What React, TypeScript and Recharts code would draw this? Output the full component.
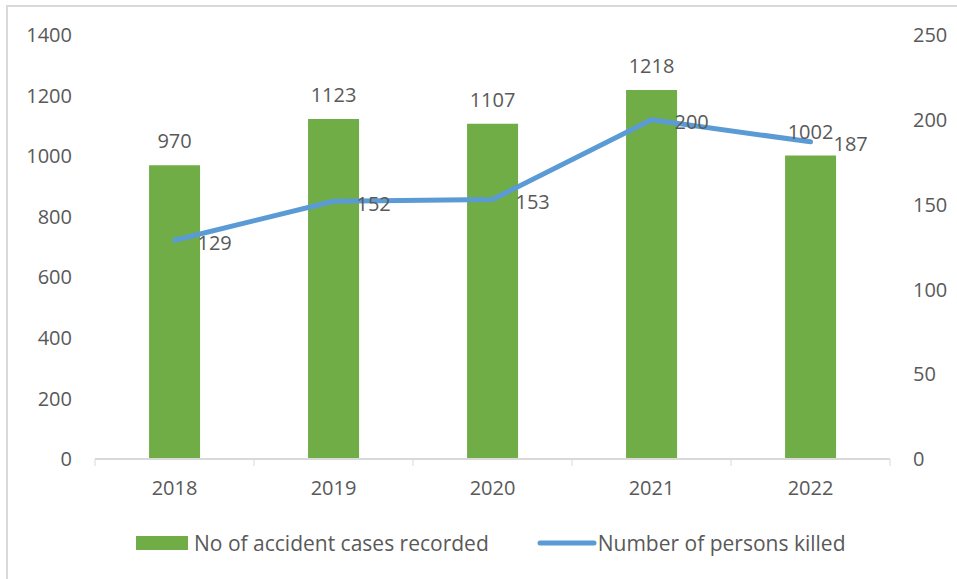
import React from 'react';
import { ComposedChart, Bar, Line, XAxis, YAxis, LabelList, Legend } from 'recharts';

const years = ['2018', '2019', '2020', '2021', '2022'];
const accidentCases = [970, 1123, 1107, 1218, 1002];
const personsKilled = [129, 152, 153, 200, 187];
const leftTicks = [0, 200, 400, 600, 800, 1000, 1200, 1400];
const rightTicks = [0, 50, 100, 150, 200, 250];

const data = years.map((y, i) => ({ year: y, cases: accidentCases[i], killed: personsKilled[i] }));

const FONT = '"Open Sans", sans-serif';
const TEXT = '#595959';
const AXIS = '#d9d9d9';
const GREEN = '#70ad47';
const BLUE = '#5b9bd5';
const TICK_MARGIN = 22;

const XTick = (props: any) => {
  const { x, y, payload, index, visibleTicksCount, width } = props;
  const half = width / visibleTicksCount / 2;
  const axisY = y - TICK_MARGIN;
  const last = index === visibleTicksCount - 1;
  return (
    <g>
      <line x1={x - half} x2={x - half} y1={axisY} y2={axisY + 7} stroke={AXIS} strokeWidth={1} />
      {last && <line x1={x + half} x2={x + half} y1={axisY} y2={axisY + 7} stroke={AXIS} strokeWidth={1} />}
      <text x={x} y={y} dy="0.71em" textAnchor="middle" fill={TEXT} fontSize={20} fontFamily={FONT}>
        {payload.value}
      </text>
    </g>
  );
};

const LineLabel = (props: any) => {
  const { x, y, value } = props;
  return (
    <text x={x + 23} y={y + 2} dominantBaseline="central" textAnchor="start" fill={TEXT} fontSize={20} fontFamily={FONT}>
      {value}
    </text>
  );
};

const LegendContent = () => (
  <div style={{ display: 'flex', justifyContent: 'flex-start', alignItems: 'center', fontFamily: FONT, fontSize: 21, color: TEXT, height: 30, paddingLeft: 136 }}>
    <svg width={52} height={14} style={{ marginRight: 6 }}>
      <rect x={0} y={0} width={52} height={14} fill={GREEN} />
    </svg>
    <span style={{ marginRight: 48 }}>No of accident cases recorded</span>
    <svg width={60} height={14} style={{ marginRight: 1 }}>
      <line x1={3} x2={57} y1={7} y2={7} stroke={BLUE} strokeWidth={5} strokeLinecap="round" />
    </svg>
    <span>Number of persons killed</span>
  </div>
);

export default function App() {
  return (
    <div style={{ position: 'absolute', left: 0, top: 0, width: 957, height: 579, background: '#fff', overflow: 'hidden' }}>
      <div style={{ position: 'absolute', left: 6, top: 5, width: 1000, height: 1000, border: '2px solid #d9d9d9', boxSizing: 'border-box' }} />
      <ComposedChart
        width={957}
        height={579}
        data={data}
        margin={{ top: 35, right: 0, left: 0, bottom: 50 }}
        barCategoryGap="34%"
        style={{ position: 'absolute', left: 0, top: 0 }}
      >
        <XAxis
          dataKey="year"
          axisLine={{ stroke: AXIS, strokeWidth: 2 }}
          tickLine={false}
          tickSize={0}
          tickMargin={TICK_MARGIN}
          tick={<XTick />}
          height={40}
          interval={0}
        />
        <YAxis
          yAxisId="left"
          orientation="left"
          domain={[0, 1400]}
          ticks={leftTicks}
          width={95}
          axisLine={false}
          tickLine={false}
          tickSize={0}
          tickMargin={23}
          tick={{ fill: TEXT, fontSize: 20, fontFamily: FONT }}
          interval={0}
        />
        <YAxis
          yAxisId="right"
          orientation="right"
          domain={[0, 250]}
          ticks={rightTicks}
          width={67}
          axisLine={false}
          tickLine={false}
          tickSize={0}
          tickMargin={23}
          tick={{ fill: TEXT, fontSize: 20, fontFamily: FONT, textAnchor: 'start' }}
          interval={0}
        />
        <Legend
          verticalAlign="bottom"
          content={<LegendContent />}
          wrapperStyle={{ position: 'absolute', left: 0, top: 528, width: 957, height: 30 }}
        />
        <Bar yAxisId="left" dataKey="cases" fill={GREEN} isAnimationActive={false}>
          <LabelList dataKey="cases" position="top" offset={17} fill={TEXT} fontSize={20} fontFamily={FONT} />
        </Bar>
        <Line
          yAxisId="right"
          dataKey="killed"
          stroke={BLUE}
          strokeWidth={5}
          strokeLinecap="round"
          strokeLinejoin="round"
          dot={false}
          activeDot={false}
          isAnimationActive={false}
          type="linear"
        >
          <LabelList dataKey="killed" content={<LineLabel />} />
        </Line>
      </ComposedChart>
    </div>
  );
}
